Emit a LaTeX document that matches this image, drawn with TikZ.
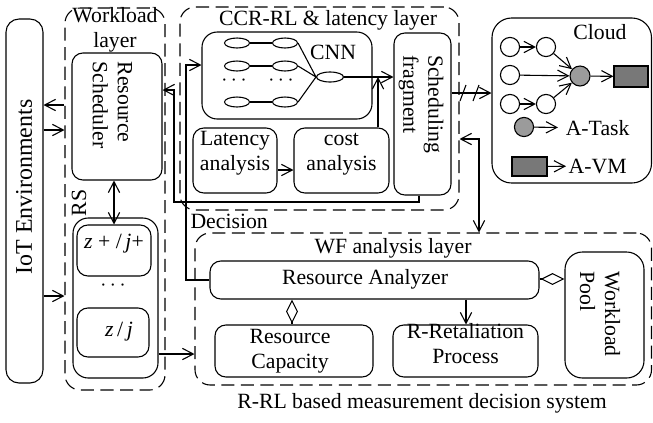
\documentclass[tikz,border=0pt]{standalone}
\usepackage{fontspec}
\setmainfont{Liberation Serif}
\usetikzlibrary{arrows.meta,fit,shapes.geometric}
\definecolor{taskgray}{RGB}{155,155,155}
\definecolor{vmgray}{RGB}{120,120,120}
\begin{document}
\begin{tikzpicture}[x=0.46pt,y=-0.46pt,
  font=\fontsize{10}{11.5}\selectfont,
  line width=0.5pt,
  >={Straight Barb[length=5pt,width=5.2pt]},
  box/.style={draw, rounded corners=5pt, inner sep=0pt, align=center},
  layer/.style={draw, dash pattern=on 6pt off 3pt, rounded corners=7pt, inner sep=0pt},
  txt/.style={inner sep=0pt, align=center},
  ell/.style={draw, ellipse, minimum width=11.5pt, minimum height=4.6pt, inner sep=0pt},
  circ/.style={draw, circle, minimum size=8.8pt, inner sep=0pt},
  dia/.tip={Diamond[open,length=11pt,width=5.5pt]},
]
\useasboundingbox (0,0) rectangle (653,422);

% IoT
\node[box, rounded corners=6pt, fit={(6,19) (43,383)}] (iot) {};
\node[txt, rotate=90, font=\fontsize{11}{13}\selectfont] (iott) at (24,187) {IoT Environments};

% Workload layer
\node[layer, fit={(65,8) (165,390)}] (wl) {};
\node[txt] (wlt) at (115,30) {Workload\\layer};
\node[box, fit={(72,53) (162,180)}] (rsch) {};
\node[txt, rotate=-90, align=left] (rscht) at (112.5,105) {Resource\\Scheduler};
\node[txt, rotate=90] (rslab) at (79,203) {RS};
\node[box, rounded corners=7pt, fit={(73,218) (158,378)}] (rsbox) {};
\node[box, fit={(77,225) (151,276)}] (in1) {\textit{z} + /\,\textit{j}+};
\node[txt] (rsdots) at (113,286) {$\cdots$};
\node[box, fit={(77,308) (149,357)}] (in2) {};
\node[txt] (in2t) at (119,332) {\textit{z}\,/\,\textit{j}};

% CCR-RL layer
\node[layer, fit={(180,7) (459,210)}] (ccr) {};
\node[txt] (ccrt) at (328,20) {CCR-RL \& latency layer};
\node[box, rounded corners=7pt, fit={(202,32) (372,119)}] (cnn) {};
\node[txt] (cnnt) at (333,52) {CNN};
\node[ell] (c11) at (237,43) {};
\node[ell] (c12) at (237,66) {};
\node[ell] (c13) at (237,102) {};
\node[ell] (c21) at (285,43) {};
\node[ell] (c22) at (285,66) {};
\node[ell] (c23) at (285,102) {};
\node[ell, minimum width=12.4pt] (out) at (330,77) {};
\node[txt] (d1) at (234,81) {$\cdots$};
\node[txt] (d2) at (281,81) {$\cdots$};
\draw (c11) -- (c21) (c12) -- (c22) (c13) -- (c23);
\draw (c21.east) -- (out.west) (c22.east) -- (out.west) (c23.east) -- (out.west);
\node[box, fit={(193,128) (277,193)}] (lat) {Latency\\analysis};
\node[box, fit={(294,128) (389,193)}] (cost) {cost\\analysis};
\node[box, fit={(394,33) (451,195)}] (sf) {};
\node[txt, rotate=-90, align=left] (sft) at (421,104) {Scheduling\\fragment};
\coordinate (sfin) at (378,77);
\draw[->] (out.east) -- (out.east -| sf.west);
\draw[->] (cost.north -| sfin) -- (sfin);
\draw[->] (lat.east |- 0,170) -- (cost.west |- 0,170);

% WF layer
\node[layer, fit={(195,233) (651.5,385)}] (wf) {};
\node[txt] (wft) at (393,248) {WF analysis layer};
\node[box, fit={(210,261) (539,299)}] (ra) {};
\node[txt] (rat) at (365,279) {Resource Analyzer};
\node[box, fit={(215,325) (373,377)}] (rc) {};
\node[txt] (rct) at (290,351) {Resource\\Capacity};
\node[box, fit={(393,325) (538,377)}] (rr) {R-Retaliation\\Process};
\node[box, rounded corners=8pt, fit={(565,252) (644,378)}] (wp) {};
\node[txt, rotate=-90, align=left] (wpt) at (600,314) {Workload\\Pool};
\draw[->] (ra.south -| 466,0) -- (rr.north -| 466,0);
\draw[dia-] (ra.south -| 292,0) -- (rc.north -| 292,0);
\draw[-dia] (ra.east |- 0,279) -- (wp.west |- 0,279);

% Cloud
\node[box, rounded corners=9pt, fit={(492,18) (651.5,183)}] (cloud) {};
\node[txt] (cloudt) at (600,32) {Cloud};
\node[circ] (a1) at (510,47) {};
\node[circ] (b1) at (546,47) {};
\node[circ] (a2) at (510,75) {};
\node[circ] (a3) at (510,104) {};
\node[circ] (b3) at (546,104) {};
\node[circ, fill=taskgray, minimum size=9.2pt] (g) at (580,76) {};
\node[draw, fill=vmgray, inner sep=0pt, fit={(614,66) (648,87)}] (vm) {};
\draw[->] (a1) -- (b1);
\draw[->] (a3) -- (b3);
\draw[->] (b1) -- (g);
\draw[->] (a2) -- (g);
\draw[->] (b3) -- (g);
\draw[->] (g) -- (vm);
\node[circ, fill=taskgray] (lg) at (524,127) {};
\node[anchor=west] (lgt) at (558,128) {A-Task};
\draw[->] (lg) -- (lgt);
\node[draw, fill=vmgray, inner sep=0pt, fit={(512,157) (547,176)}] (lvm) {};
\node[anchor=west, inner sep=1pt] (lvmt) at (566,166) {A-VM};
\draw[->] (lvm) -- (lvmt);

% Connectors between layers
\draw[->] (wl.west |- 0,105) -- (iot.east |- 0,105);
\draw[->] (iot.east |- 0,130) -- (wl.west |- 0,130);
\draw[->] (iot.east |- 0,296) -- (wl.west |- 0,296);
\draw[<->] (rsch.south -| 114,0) -- (in1.north -| 114,0);
\draw[->] (rsbox.east |- 0,354) -- (wf.west |- 0,354);
\coordinate (fb) at (419,202);
\draw[->] (sf.south -| fb) -- (fb) -| (174,90) -- (rsch.east |- 0,90);
\draw[->] (ra.west) -| (186,65) -- (cnn.west |- 0,65);
\node[txt, anchor=west] (dec) at (190,221) {Decision};
\draw[->] (sf.east |- 0,93) -- (cloud.west |- 0,93);
\draw (460,101) -- (466,85) (473,101) -- (479,85);
\coordinate (ck) at (479,139);
\draw[<->] (ccr.east |- ck) -- (ck) -- (wf.north -| ck);

\node[txt] (cap) at (422,403) {R-RL based measurement decision system};
\end{tikzpicture}
\end{document}
